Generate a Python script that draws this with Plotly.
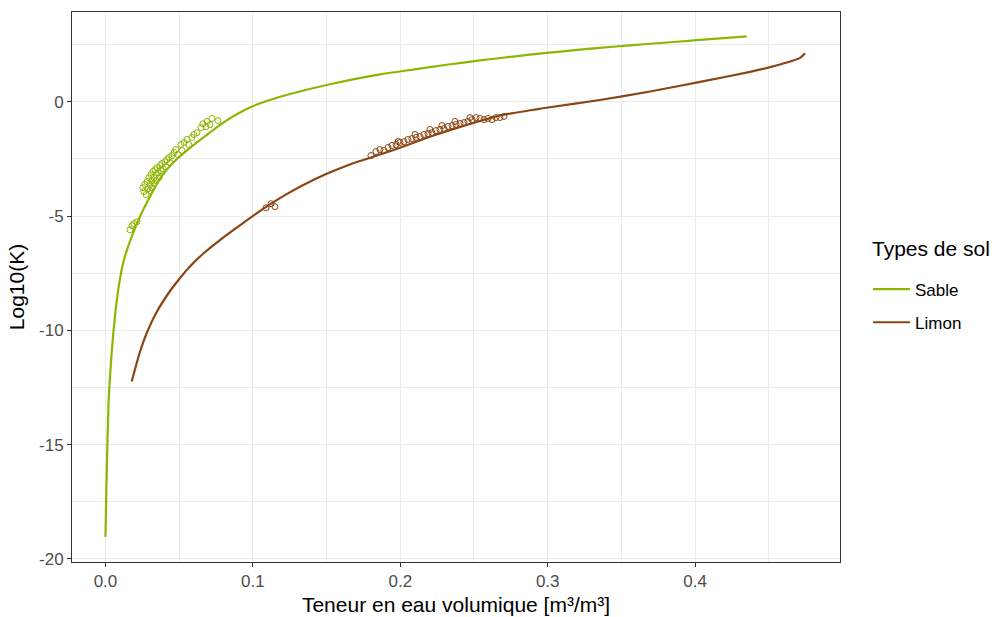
import plotly.graph_objects as go

# ---- data ----
sable_line_x = [0.0000, 0.0006, 0.0013, 0.0022, 0.0031, 0.0042, 0.0055, 0.0071, 0.0092, 0.0122,
                0.0172, 0.0236, 0.0302, 0.0381, 0.0460, 0.0573, 0.0687, 0.0799, 0.0912, 0.1003,
                0.1116, 0.1252, 0.1523, 0.1862, 0.2086, 0.2315, 0.2541, 0.2765, 0.2993, 0.3219,
                0.3443, 0.3672, 0.3901, 0.4125, 0.4350]
sable_line_y = [-19.04, -17.00, -15.00, -13.00, -12.00, -11.00, -10.00, -9.00, -8.00, -7.00,
                -6.00, -5.00, -4.14, -3.26, -2.66, -2.02, -1.45, -0.91, -0.47, -0.18,
                0.08, 0.34, 0.77, 1.20, 1.41, 1.62, 1.81, 1.98, 2.14, 2.28,
                2.41, 2.53, 2.64, 2.75, 2.86]

limon_line_x = [0.0178, 0.0234, 0.0280, 0.0343, 0.0438, 0.0505, 0.0562, 0.0664, 0.0777, 0.0890,
                0.1003, 0.1116, 0.1229, 0.1342, 0.1501, 0.1681, 0.1862, 0.1998, 0.2201, 0.2337,
                0.2541, 0.2676, 0.3015, 0.3355, 0.3694, 0.4034, 0.4373, 0.4576, 0.4712, 0.4746]
limon_line_y = [-12.24, -10.94, -10.12, -9.25, -8.28, -7.72, -7.28, -6.64, -6.05, -5.51,
                -4.98, -4.49, -4.04, -3.64, -3.15, -2.69, -2.31, -2.01, -1.53, -1.24,
                -0.84, -0.60, -0.24, 0.08, 0.45, 0.87, 1.31, 1.63, 1.92, 2.13]

sable_obs_x = [0.0166, 0.0180, 0.0193, 0.0214,
               0.0254, 0.0261, 0.0268, 0.0275, 0.0282, 0.0288, 0.0295, 0.0302, 0.0302, 0.0309,
               0.0315, 0.0315, 0.0322, 0.0329, 0.0329, 0.0336, 0.0343, 0.0343, 0.0349, 0.0356,
               0.0363, 0.0370, 0.0377, 0.0383, 0.0390, 0.0404, 0.0410, 0.0417, 0.0431, 0.0438,
               0.0451, 0.0465, 0.0478, 0.0492, 0.0512, 0.0519, 0.0533, 0.0553, 0.0566, 0.0587,
               0.0600, 0.0621, 0.0648, 0.0661, 0.0682, 0.0689, 0.0709, 0.0723, 0.0763]
sable_obs_y = [-5.60, -5.42, -5.33, -5.25,
               -3.76, -3.93, -3.62, -4.06, -3.49, -3.80, -3.32, -3.62, -3.89, -3.19,
               -3.45, -3.76, -3.05, -3.32, -3.58, -2.97, -3.19, -3.45, -2.88, -3.10,
               -3.32, -2.79, -3.01, -2.70, -2.92, -2.62, -2.84, -2.53, -2.44, -2.66,
               -2.35, -2.22, -2.09, -2.31, -1.87, -2.13, -1.78, -1.65, -1.87, -1.56,
               -1.43, -1.35, -1.13, -0.96, -1.09, -0.86, -1.00, -0.73, -0.82]

limon_obs_x = [0.1089, 0.1123, 0.1150,
               0.1801, 0.1835, 0.1862, 0.1889, 0.1917, 0.1944, 0.1971, 0.1998, 0.2025, 0.2052,
               0.2079, 0.2107, 0.2134, 0.2161, 0.2188, 0.2215, 0.2242, 0.2269, 0.2296, 0.2324,
               0.2351, 0.2378, 0.2405, 0.2432, 0.2459, 0.2487, 0.2514, 0.2541, 0.2568, 0.2595,
               0.2622, 0.2649, 0.2676, 0.2704, 0.2283, 0.2371, 0.2473, 0.1985, 0.2100, 0.2201]
limon_obs_y = [-4.64, -4.46, -4.59,
               -2.35, -2.18, -2.09, -2.13, -2.00, -1.91, -1.87, -1.78, -1.74, -1.65,
               -1.61, -1.56, -1.52, -1.43, -1.39, -1.35, -1.26, -1.21, -1.17, -1.08,
               -1.04, -0.99, -0.95, -0.91, -0.86, -0.78, -0.69, -0.73, -0.78, -0.73,
               -0.78, -0.69, -0.69, -0.64, -1.04, -0.86, -0.69, -1.74, -1.43, -1.21]

series_names = ["Sable", "Limon"]
series_colors = ["#8DB600", "#8B4513"]
legend_title = "Types de sol"

x_ticks = [0.0, 0.1, 0.2, 0.3, 0.4]
y_ticks = [-20, -15, -10, -5, 0]

FONT = "Liberation Sans, Arial, sans-serif"

fig = go.Figure()

obs = [(sable_obs_x, sable_obs_y), (limon_obs_x, limon_obs_y)]
lines = [(sable_line_x, sable_line_y), (limon_line_x, limon_line_y)]

for (ox, oy), name, col in zip(obs, series_names, series_colors):
    fig.add_trace(go.Scatter(x=ox, y=oy, mode="markers", showlegend=False,
                             marker=dict(symbol="circle-open", size=6, color=col,
                                         line=dict(width=1, color=col)),
                             hoverinfo="skip"))

for (lx, ly), name, col in zip(lines, series_names, series_colors):
    fig.add_trace(go.Scatter(x=lx, y=ly, mode="lines", name=name, legendgroup=name,
                             line=dict(color=col, width=2.2, shape="spline", smoothing=0.5)))

axis_common = dict(
    showline=True, mirror=True, linecolor="#333333", linewidth=1,
    ticks="outside", ticklen=4, tickcolor="#333333", tickwidth=1,
    showgrid=True, gridcolor="#EBEBEB", gridwidth=1.1,
    zeroline=False,
    tickfont=dict(family=FONT, size=17, color="#4D4D4D"),
)

fig.update_xaxes(
    range=[-0.0227, 0.4983], tickvals=x_ticks, ticktext=[f"{v:.1f}" for v in x_ticks],
    minor=dict(dtick=0.05, tick0=0.05, showgrid=True, gridcolor="#EBEBEB", gridwidth=0.6, ticks=""),
    title=dict(text="Teneur en eau volumique [m³/m³]", font=dict(family=FONT, size=21, color="#000000"),
               standoff=6),
    **axis_common)
fig.update_yaxes(
    range=[-20.14, 3.93], tickvals=y_ticks, ticktext=[str(v) for v in y_ticks],
    minor=dict(dtick=2.5, tick0=2.5, showgrid=True, gridcolor="#EBEBEB", gridwidth=0.6, ticks=""),
    title=dict(text="Log10(K)", font=dict(family=FONT, size=21, color="#000000"), standoff=8),
    **axis_common)

fig.add_annotation(text=legend_title, xref="paper", yref="paper", x=1.0390, y=0.570,
                   xanchor="left", yanchor="middle", showarrow=False,
                   font=dict(family=FONT, size=21, color="#000000"))

fig.update_layout(
    width=996, height=617,
    margin=dict(l=72, r=156, t=12, b=55, autoexpand=False),
    paper_bgcolor="white", plot_bgcolor="white",
    font=dict(family=FONT),
    legend=dict(
        font=dict(family=FONT, size=17, color="#000000"),
        x=1.0365, xanchor="left", y=0.528, yanchor="top",
        tracegroupgap=8, itemwidth=37, bgcolor="rgba(0,0,0,0)",
    ),
)

fig.write_html("out.html")
